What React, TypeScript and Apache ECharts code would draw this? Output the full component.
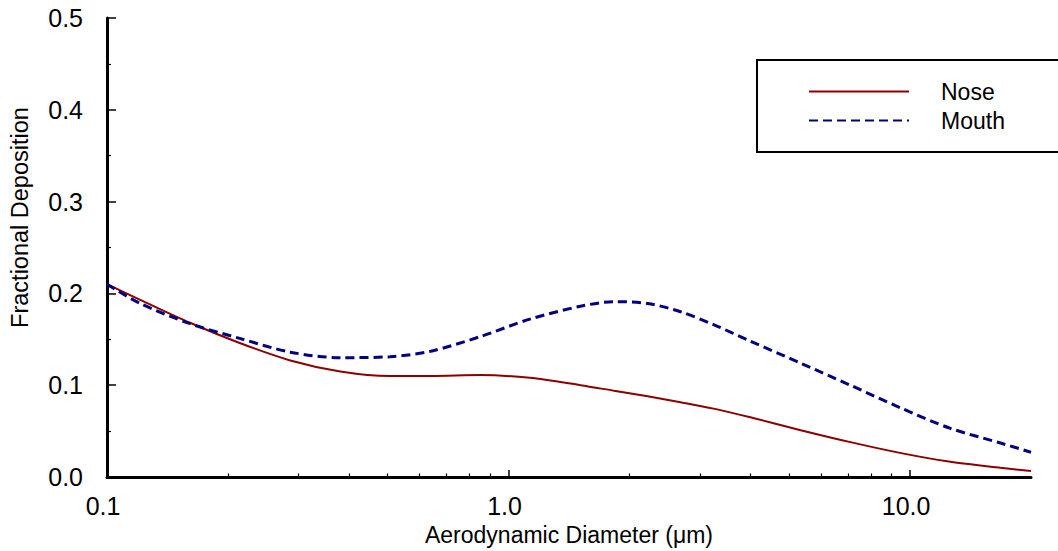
import React, { useEffect, useRef } from "react";
import * as echarts from "echarts";

const diameters = [0.1, 0.121, 0.161, 0.214, 0.286, 0.381, 0.507, 0.64, 0.851, 1.13, 1.51, 1.83, 2.22, 2.68, 3.24, 4.0, 5.34, 7.1, 9.5, 12.6, 16.8, 20];
const nose = [0.21, 0.193, 0.168, 0.146, 0.127, 0.115, 0.11, 0.11, 0.111, 0.108, 0.1, 0.094, 0.088, 0.0815, 0.0745, 0.065, 0.051, 0.038, 0.026, 0.0165, 0.01, 0.0065];
const mouth = [0.21, 0.189, 0.167, 0.151, 0.136, 0.13, 0.131, 0.137, 0.153, 0.172, 0.186, 0.191, 0.189, 0.18, 0.166, 0.148, 0.124, 0.1, 0.075, 0.053, 0.037, 0.027];
const seriesNames = ["Nose", "Mouth"];
const majorTicks = [0.1, 1, 10];
const minorTicks = [0.2, 0.3, 0.4, 0.5, 0.6, 0.7, 0.8, 0.9, 2, 3, 4, 5, 6, 7, 8, 9];
const xMin = 0.1;
const xMax = 20;

const FONT = "'Liberation Sans', Arial, Helvetica, sans-serif";

export default function App() {
  const ref = useRef<HTMLDivElement>(null);
  useEffect(() => {
    if (!ref.current) return;
    const chart = echarts.init(ref.current, null, { renderer: "svg" });
    const lg = (v: number) => Math.log10(v);
    const pairs = (ys: number[]) => diameters.map((d, i) => [lg(d), ys[i]]);
    chart.setOption({
      animation: false,
      textStyle: { fontFamily: FONT, color: "#000" },
      grid: { left: 107, right: 27, top: 18, bottom: 73 },
      xAxis: [
        {
          type: "value",
          min: lg(xMin),
          max: lg(xMax),
          position: "bottom",
          name: "Aerodynamic Diameter (μm)",
          nameLocation: "middle",
          nameGap: 46,
          nameTextStyle: { fontSize: 23, color: "#000", fontFamily: FONT },
          axisLine: { show: true, onZero: false, lineStyle: { color: "#000", width: 3 } },
          axisTick: {
            show: true,
            inside: true,
            length: 7,
            customValues: majorTicks.map(lg),
            lineStyle: { color: "#000", width: 1.5 },
          },
          axisLabel: {
            customValues: majorTicks.map(lg),
            formatter: (v: number) => Math.pow(10, v).toFixed(1),
            fontSize: 25,
            color: "#000",
            margin: 16,
            fontFamily: FONT,
            padding: [0, 8, 0, 0],
          },
          splitLine: { show: false },
        },
        {
          type: "value",
          min: lg(xMin),
          max: lg(xMax),
          position: "bottom",
          axisLine: { show: false, onZero: false },
          axisTick: {
            show: true,
            inside: true,
            length: 3.5,
            customValues: minorTicks.map(lg),
            lineStyle: { color: "#000", width: 1.2 },
          },
          axisLabel: { show: false },
          splitLine: { show: false },
        },
      ],
      yAxis: {
        type: "value",
        min: 0,
        max: 0.5,
        interval: 0.1,
        name: "Fractional Deposition",
        nameLocation: "middle",
        nameGap: 75,
        nameTextStyle: { fontSize: 23.5, color: "#000", fontFamily: FONT, padding: [0, 0, 0, 60] },
        axisLine: { show: true, onZero: false, lineStyle: { color: "#000", width: 3 } },
        axisTick: { show: true, inside: true, length: 9, lineStyle: { color: "#000", width: 1.5 } },
        minorTick: { show: true, splitNumber: 2, length: 4, lineStyle: { color: "#000", width: 1.2 } },
        axisLabel: {
          formatter: (v: number) => v.toFixed(1),
          fontSize: 25,
          color: "#000",
          margin: 24,
          fontFamily: FONT,
        },
        splitLine: { show: false },
        minorSplitLine: { show: false },
      },
      legend: {
        data: seriesNames,
        orient: "vertical",
        left: 808,
        top: 80,
        padding: 0,
        itemWidth: 100,
        itemHeight: 14,
        itemGap: 6,
        itemStyle: { opacity: 0, borderWidth: 0 },
        textStyle: { fontSize: 23, color: "#000", fontFamily: FONT, padding: [0, 0, 0, 27] },
      },
      graphic: [
        {
          type: "rect",
          shape: { x: 757, y: 60, width: 320, height: 92 },
          style: { fill: "none", stroke: "#000", lineWidth: 2 },
          z: 100,
        },
      ],
      series: [
        {
          name: seriesNames[0],
          type: "line",
          xAxisIndex: 0,
          data: pairs(nose),
          smooth: 0.3,
          symbol: "none",
          showSymbol: false,
          lineStyle: { color: "#8B0000", width: 2 },
          itemStyle: { color: "#8B0000" },
        },
        {
          name: seriesNames[1],
          type: "line",
          xAxisIndex: 0,
          data: pairs(mouth),
          smooth: 0.3,
          symbol: "none",
          showSymbol: false,
          lineStyle: { color: "#000080", width: 3, type: [9, 5] },
          itemStyle: { color: "#000080" },
        },
      ],
    });
    return () => chart.dispose();
  }, []);
  return (
    <div
      ref={ref}
      style={{ position: "absolute", left: 0, top: 0, width: 1058, height: 551, background: "#fff" }}
    />
  );
}
